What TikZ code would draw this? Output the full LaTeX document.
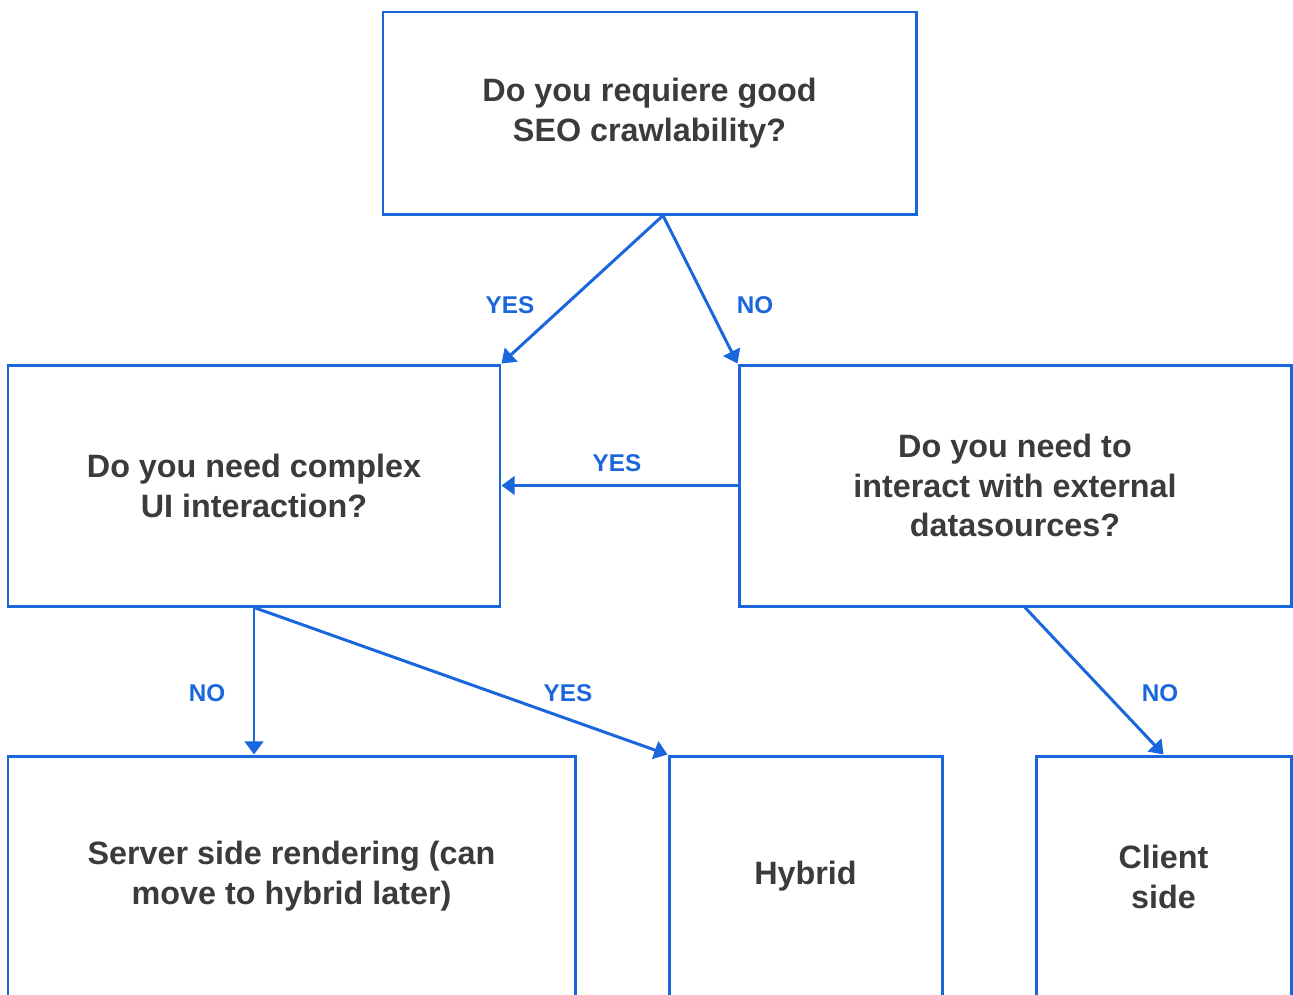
\documentclass[tikz,border=0pt]{standalone}
\usepackage{fontspec}
\setmainfont{Liberation Sans}
\usetikzlibrary{arrows.meta,calc}
\definecolor{boxblue}{HTML}{1A66DD}
\definecolor{textgrey}{HTML}{3B3B3B}

\begin{document}
\begin{tikzpicture}[
  question/.style = {draw = boxblue, line width = 1.7pt, shape = rectangle, inner sep = 0pt,
                     align = center, text = textgrey, font = \fontsize{18.4}{22.7}\selectfont\bfseries},
  answer/.style = {text = boxblue, font = \fontsize{13.8}{15}\selectfont\bfseries},
  flow/.style = {draw = boxblue, line width = 1.7pt, -{Triangle[length=7.5pt,width=10.5pt]}}
]
\useasboundingbox (0,0) rectangle (25.86,-19.88);
\clip (0,0) rectangle (25.86,-19.88);

\node[question, minimum width = 10.66cm, minimum height = 4.04cm] (seo) at (12.99,-2.26) {Do you requiere good\\SEO crawlability?};
\node[question, minimum width = 9.84cm, minimum height = 4.82cm] (ui) at (5.08,-9.71) {Do you need complex\\UI interaction?};
\node[question, minimum width = 11.04cm, minimum height = 4.82cm] (ext) at (20.30,-9.71) {Do you need to\\interact with external\\datasources?};
\node[question, minimum width = 11.34cm, minimum height = 4.82cm] (ssr) at (5.83,-17.53) {Server side rendering (can\\move to hybrid later)};
\node[question, minimum width = 5.46cm, minimum height = 4.82cm] (hybrid) at (16.11,-17.53) {Hybrid};
\node[question, minimum width = 5.10cm, minimum height = 4.82cm] (client) at (23.27,-17.53) {Client\\side};

% decisions
\coordinate (seofork) at ($(seo.south)+(0.27,0)$);
\coordinate (extfork) at ($(ext.south)+(0.2,0)$);
\draw[flow] (seofork) -- (ui.north east);
\draw[flow] (seofork) -- (ext.north west);
\draw[flow] (ext.west) -- (ui.east);
\draw[flow] (ui.south) -- (ssr.north -| ui.south);
\draw[flow] (ui.south) -- (hybrid.north west);
\draw[flow] (extfork) -- (client.north);

\node[answer] (seoyes) at (10.2,-6.1) {YES};
\node[answer] (seono) at (15.1,-6.1) {NO};
\node[answer] (extyes) at (12.34,-9.26) {YES};
\node[answer] (uino) at (4.14,-13.86) {NO};
\node[answer] (uiyes) at (11.36,-13.86) {YES};
\node[answer] (extno) at (23.2,-13.86) {NO};
\end{tikzpicture}
\end{document}
